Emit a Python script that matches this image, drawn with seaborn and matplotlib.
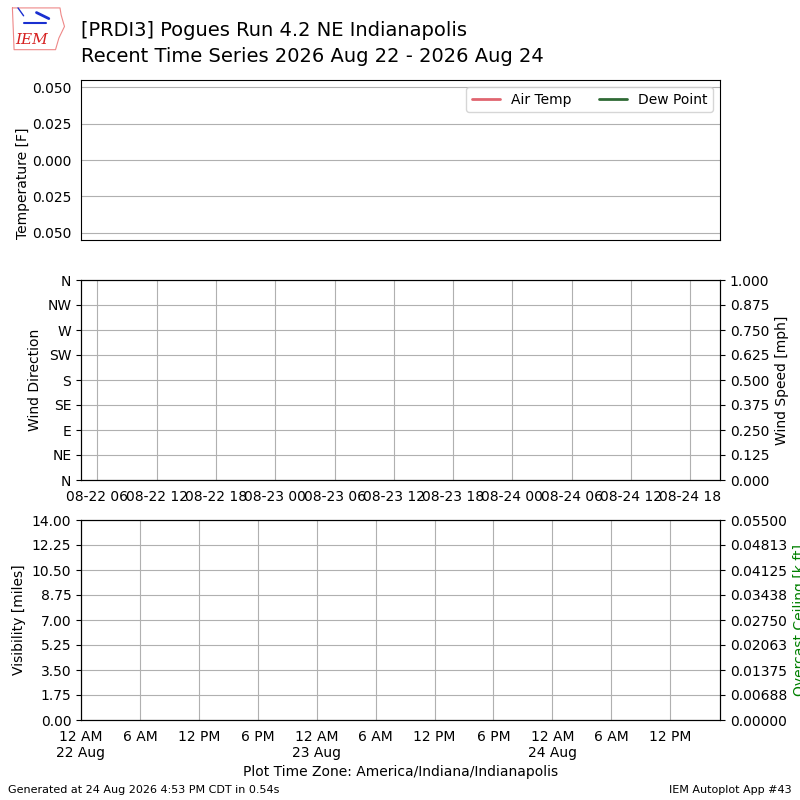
import datetime

import matplotlib
matplotlib.use("Agg")
import matplotlib.dates as mdates
import matplotlib.pyplot as plt
import matplotlib.ticker as mticker
import pandas as pd
import seaborn as sns

# No observations were reported for this station in the window: all series are empty
obs_times = []
air_temp = []
dew_point = []
wind_dir = []
wind_speed = []
visibility = []
ceiling = []

station = "[PRDI3] Pogues Run 4.2 NE Indianapolis"
subtitle = "Recent Time Series 2026 Aug 22 - 2026 Aug 24"
dir_labels = ["N", "NE", "E", "SE", "S", "SW", "W", "NW", "N"]
temp_tick_labels = ["0.050", "0.025", "0.000", "0.025", "0.050"]

# axis windows (local time for bottom panel, wind panel as drawn)
wind_start = datetime.datetime(2026, 8, 22, 4, 21)
wind_end = datetime.datetime(2026, 8, 24, 21, 0)
vis_start = datetime.datetime(2026, 8, 22, 0, 0)
vis_end = datetime.datetime(2026, 8, 24, 17, 4)


def empty_frame(values):
    return pd.DataFrame({"valid": pd.to_datetime(obs_times), "value": values})


sns.set_style("white")
plt.rcParams["font.family"] = ["DejaVu Sans"]
plt.rcParams.update({"text.color": "black", "axes.labelcolor": "black",
                     "xtick.color": "black", "ytick.color": "black"})

fig = plt.figure(figsize=(8, 8), dpi=100)
grid_kw = dict(color="#b0b0b0", linewidth=0.8)

# --- temperature panel
ax1 = fig.add_axes([0.10125, 0.70, 0.79875, 0.20])
sns.lineplot(data=empty_frame(air_temp), x="valid", y="value", ax=ax1)
ax1.plot([], [], color="#e06570", lw=2, label="Air Temp")
ax1.plot([], [], color="#2f6a35", lw=2, label="Dew Point")
ax1.set_ylim(-0.055, 0.055)
ax1.set_yticks([0.05, 0.025, 0.0, -0.025, -0.05])
ax1.set_yticklabels(temp_tick_labels)
ax1.set_xticks([])
ax1.set_xlabel("")
ax1.set_ylabel("Temperature [F]")
ax1.yaxis.set_label_coords(-0.080, 0.356)
ax1.yaxis.grid(True, **grid_kw)
ax1.legend(loc="upper right", ncol=2, fontsize=10)

# --- wind panel
ax2 = fig.add_axes([0.10125, 0.40, 0.79875, 0.25])
sns.lineplot(data=empty_frame(wind_dir), x="valid", y="value", ax=ax2)
ax2.set_xlim(wind_start, wind_end)
ax2.set_ylim(0, 360)
ax2.set_yticks(range(0, 361, 45))
ax2.set_yticklabels(dir_labels)
ax2.set_ylabel("Wind Direction")
ax2.set_xlabel("")
ax2.xaxis.set_major_locator(mdates.HourLocator(byhour=[0, 6, 12, 18]))
ax2.xaxis.set_major_formatter(mdates.DateFormatter("%m-%d %H"))
ax2.grid(True, **grid_kw)
ax2b = ax2.twinx()
ax2b.set_ylim(0, 1)
ax2b.set_yticks([i * 0.125 for i in range(9)])
ax2b.yaxis.set_major_formatter(mticker.FormatStrFormatter("%.3f"))
ax2b.set_ylabel("Wind Speed [mph]")

# --- visibility / ceiling panel
ax3 = fig.add_axes([0.10125, 0.10, 0.79875, 0.25])
sns.lineplot(data=empty_frame(visibility), x="valid", y="value", ax=ax3)
ax3.set_xlim(vis_start, vis_end)
ax3.set_ylim(0, 14)
ax3.set_yticks([i * 1.75 for i in range(9)])
ax3.yaxis.set_major_formatter(mticker.FormatStrFormatter("%.2f"))
ax3.set_ylabel("Visibility [miles]")
ax3.set_xlabel("Plot Time Zone: America/Indiana/Indianapolis")
ax3.xaxis.set_major_locator(mdates.HourLocator(byhour=[0, 6, 12, 18]))


def hour_label(x, pos):
    d = mdates.num2date(x)
    h = d.hour % 12 or 12
    txt = f"{h} {'AM' if d.hour < 12 else 'PM'}"
    if d.hour == 0:
        txt += d.strftime("\n%-d %b")
    return txt


ax3.xaxis.set_major_formatter(mticker.FuncFormatter(hour_label))
ax3.grid(True, **grid_kw)
ax3b = ax3.twinx()
ax3b.set_ylim(0, 0.055)
ax3b.set_yticks([i * 0.055 / 8 for i in range(9)])
ax3b.yaxis.set_major_formatter(mticker.FormatStrFormatter("%.5f"))
ax3b.set_ylabel("Overcast Ceiling [k ft]", color="g")

for a in (ax1, ax2, ax2b, ax3, ax3b):
    for s in a.spines.values():
        s.set_color("black")
    a.tick_params(length=3.5, width=0.8, color="black", labelsize=10)

# --- titles, footer and a rough IEM logo
fig.text(0.10125, 0.962, station, fontsize=14, va="center")
fig.text(0.10125, 0.930, subtitle, fontsize=14, va="center")
fig.text(0.01, 0.0125, "Generated at 24 Aug 2026 4:53 PM CDT in 0.54s", fontsize=8, va="center")
fig.text(0.99, 0.0125, "IEM Autoplot App #43", fontsize=8, ha="right", va="center")

logo = fig.add_axes([0.012, 0.935, 0.07, 0.058])
logo.set_xlim(0, 1)
logo.set_ylim(0, 1)
logo.axis("off")
logo.plot([0.05, 0.9, 0.92, 0.98, 0.88, 0.82, 0.08, 0.05],
          [0.95, 0.95, 0.8, 0.55, 0.3, 0.05, 0.05, 0.95], color="#e88", lw=0.8)
logo.plot([0.25, 0.65], [0.62, 0.62], color="#1a2fd0", lw=1.5)
logo.plot([0.48, 0.7], [0.85, 0.72], color="#1a2fd0", lw=2)
logo.plot([0.15, 0.25], [0.95, 0.78], color="#1a2fd0", lw=1)
logo.text(0.4, 0.25, "IEM", color="#d62020", fontsize=11, style="italic",
          family="DejaVu Serif", ha="center", va="center")

fig.savefig("out.png", dpi=100)
